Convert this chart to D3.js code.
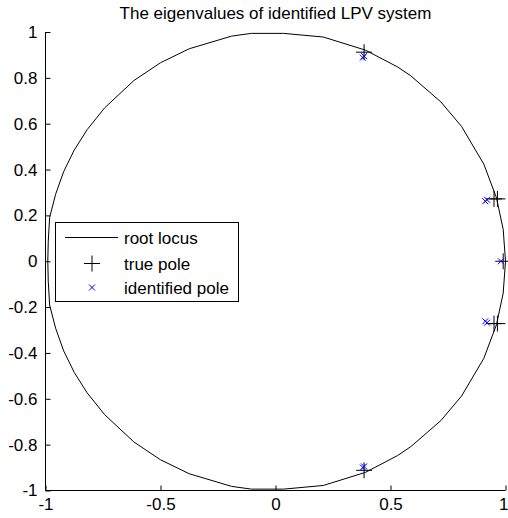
<!DOCTYPE html>
<html>
<head>
<meta charset="utf-8">
<script src="https://cdn.jsdelivr.net/npm/d3@7"></script>
<style>
  html, body { margin: 0; padding: 0; background: #fff; }
  svg { display: block; }
  text { font-family: "Liberation Sans", Arial, Helvetica, sans-serif; fill: #000; }
</style>
</head>
<body>
<div id="chart"></div>
<script>
// Root locus of the identified LPV system (closed curve in the complex plane)
const locusRe = [1.000, 0.990, 0.961, 0.906, 0.809, 0.719, 0.588, 0.530, 0.391, 0.208, 0.035, -0.105,
  -0.191, -0.375, -0.500, -0.616, -0.743, -0.819, -0.875, -0.921, -0.956, -0.982, -0.988, -0.990,
  -0.988, -0.982, -0.956, -0.921, -0.875, -0.819, -0.743, -0.616, -0.500, -0.375, -0.191, -0.105,
  0.035, 0.208, 0.391, 0.530, 0.588, 0.719, 0.809, 0.906, 0.961, 0.990, 1.000];
const locusIm = [0.000, 0.139, 0.276, 0.423, 0.588, 0.695, 0.809, 0.848, 0.921, 0.978, 0.994, 0.994,
  0.982, 0.927, 0.866, 0.788, 0.669, 0.574, 0.485, 0.391, 0.292, 0.191, 0.087, 0.000,
  -0.087, -0.191, -0.292, -0.391, -0.485, -0.574, -0.669, -0.788, -0.866, -0.927, -0.982, -0.994,
  -0.994, -0.978, -0.921, -0.848, -0.809, -0.695, -0.588, -0.423, -0.276, -0.139, 0.000];

// True poles
const trueRe = [0.385, 0.950, 0.965, 0.990, 0.950, 0.965, 0.385];
const trueIm = [0.912, 0.272, 0.272, 0.000, -0.272, -0.272, -0.912];

// Identified poles
const identRe = [0.385, 0.380, 0.920, 0.912, 0.980, 0.920, 0.912, 0.385, 0.380];
const identIm = [0.895, 0.888, 0.268, 0.262, 0.000, -0.268, -0.262, -0.895, -0.900];

const xTicks = [-1, -0.5, 0, 0.5, 1];
const yTicks = [-1, -0.8, -0.6, -0.4, -0.2, 0, 0.2, 0.4, 0.6, 0.8, 1];
const legendLabels = ["root locus", "true pole", "identified pole"];
const titleText = "The eigenvalues of identified LPV system";

const W = 508, H = 518;
const svg = d3.select("#chart").append("svg").attr("width", W).attr("height", H);

const x = d3.scaleLinear().domain([-1, 1]).range([45.5, 505.5]);
const y = d3.scaleLinear().domain([-1, 1]).range([490.5, 32]);

// Plain hyphen for negative tick labels
const fmt = d => String(Math.round(d * 10) / 10);

// Locus curve
const locusPts = locusRe.map((r, i) => [r, locusIm[i]]);
svg.append("path")
  .datum(locusPts)
  .attr("fill", "none")
  .attr("stroke", "#000")
  .attr("stroke-width", 1)
  .attr("d", d3.line().x(d => x(d[0])).y(d => y(d[1])));

const plusPath = "M-8,0H8M0,-8V8";
const crossPath = "M-3,-3L3,3M-3,3L3,-3";

// True pole markers
svg.append("g").selectAll("path")
  .data(trueRe.map((r, i) => [r, trueIm[i]]))
  .join("path")
  .attr("d", plusPath)
  .attr("transform", d => `translate(${x(d[0])},${y(d[1])})`)
  .attr("stroke", "#000").attr("stroke-width", 1).attr("fill", "none");

// Identified pole markers
svg.append("g").selectAll("path")
  .data(identRe.map((r, i) => [r, identIm[i]]))
  .join("path")
  .attr("d", crossPath)
  .attr("transform", d => `translate(${x(d[0])},${y(d[1])})`)
  .attr("stroke", "#0000ff").attr("stroke-width", 1).attr("fill", "none");

// Axes: left and bottom, ticks pointing inward
const xAxis = d3.axisBottom(x).tickValues(xTicks).tickSize(-5).tickPadding(9).tickFormat(fmt);
const gx = svg.append("g").attr("transform", `translate(0,${y(-1)})`).call(xAxis);
gx.select(".domain").attr("d", `M${x(-1)},0H${x(1)}`);

const yAxis = d3.axisLeft(y).tickValues(yTicks).tickSize(-5).tickPadding(8).tickFormat(fmt);
const gy = svg.append("g").attr("transform", `translate(${x(-1)},0)`).call(yAxis);
gy.select(".domain").attr("d", `M0,${y(-1)}V${y(1)}`);

[gx, gy].forEach(g => {
  g.selectAll("text").style("font-size", "17px").style("font-family", '"Liberation Sans", Arial, sans-serif').attr("fill", "#000");
  g.selectAll("line").attr("stroke", "#000");
  g.select(".domain").attr("stroke", "#000");
});
gx.selectAll("text").attr("dy", "0.71em").attr("y", 7);
// keep the last x label inside the page edge
gx.selectAll(".tick").filter(d => d === 1).select("text")
  .attr("text-anchor", "end").attr("x", 2.5);

// Title
svg.append("text")
  .attr("x", x(0)).attr("y", 18.5)
  .attr("text-anchor", "middle")
  .style("font-size", "17px")
  .text(titleText);

// Legend
const lg = svg.append("g");
lg.append("rect").attr("x", 55.5).attr("y", 222.5).attr("width", 183).attr("height", 79)
  .attr("fill", "#fff").attr("stroke", "#000").attr("stroke-width", 1);
const rowY = [237.5, 263.5, 287.5];
lg.append("line").attr("x1", 65).attr("x2", 118).attr("y1", rowY[0]).attr("y2", rowY[0])
  .attr("stroke", "#000").attr("stroke-width", 1);
lg.append("path").attr("d", plusPath).attr("transform", `translate(92,${rowY[1]})`)
  .attr("stroke", "#000").attr("fill", "none");
lg.append("path").attr("d", crossPath).attr("transform", `translate(92,${rowY[2]})`)
  .attr("stroke", "#0000ff").attr("fill", "none");
lg.selectAll("text.lab").data(legendLabels).join("text").attr("class", "lab")
  .attr("x", 124).attr("y", (d, i) => rowY[i] + 6)
  .style("font-size", "17px")
  .text(d => d);
</script>
</body>
</html>
